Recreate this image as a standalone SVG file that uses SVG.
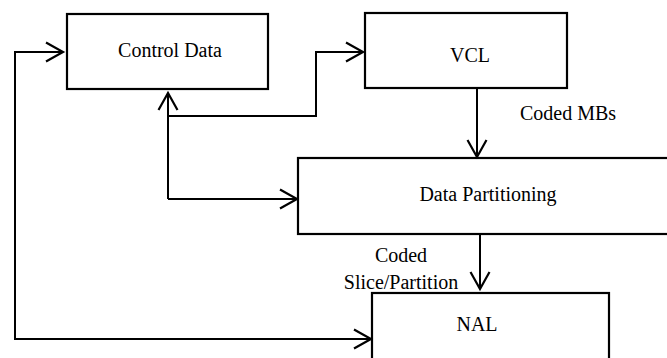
<svg xmlns="http://www.w3.org/2000/svg" width="667" height="358" viewBox="0 0 667 358">
<style>
.box{fill:#fff;stroke:#000;stroke-width:2.2}
.ln{fill:none;stroke:#000;stroke-width:2}
.t{font-family:"Liberation Serif","Times New Roman",serif;font-size:20px;fill:#000}
.m{text-anchor:middle}
</style>
<defs>
<marker id="ah" markerUnits="userSpaceOnUse" markerWidth="24" markerHeight="24" viewBox="-20 -12 24 24" refX="0" refY="0" orient="auto">
<path d="M-17,-9.5 L0,0 L-17,9.5" fill="none" stroke="#000" stroke-width="2.2"/>
</marker>
</defs>
<rect width="667" height="358" fill="#fff"/>
<g id="control-data">
<rect class="box" x="67" y="14" width="201" height="75"/>
<text class="t m" x="170" y="57">Control Data</text>
</g>
<g id="vcl">
<rect class="box" x="365" y="13" width="202" height="75"/>
<text class="t m" x="470" y="62">VCL</text>
</g>
<g id="data-partitioning">
<rect class="box" x="298" y="158" width="390" height="76"/>
<text class="t m" x="488" y="201">Data Partitioning</text>
</g>
<g id="nal">
<rect class="box" x="372" y="293" width="237" height="90"/>
<text class="t m" x="477" y="331">NAL</text>
</g>
<g id="connectors">
<polyline class="ln" points="15,340 15,52 63,52" marker-end="url(#ah)"/>
<path class="ln" d="M14,339 H371" marker-end="url(#ah)"/>
<path class="ln" d="M168,199 V93" marker-end="url(#ah)"/>
<polyline class="ln" points="168,116 316,116 316,52 363,52" marker-end="url(#ah)"/>
<path class="ln" d="M168,199 H297" marker-end="url(#ah)"/>
<path class="ln" d="M477,88 V157" marker-end="url(#ah)"/>
<path class="ln" d="M480,234 V289" marker-end="url(#ah)"/>
<text class="t" x="520" y="120">Coded MBs</text>
<text class="t m" x="401" y="262">Coded</text>
<text class="t m" x="401" y="289">Slice/Partition</text>
</g>
</svg>
